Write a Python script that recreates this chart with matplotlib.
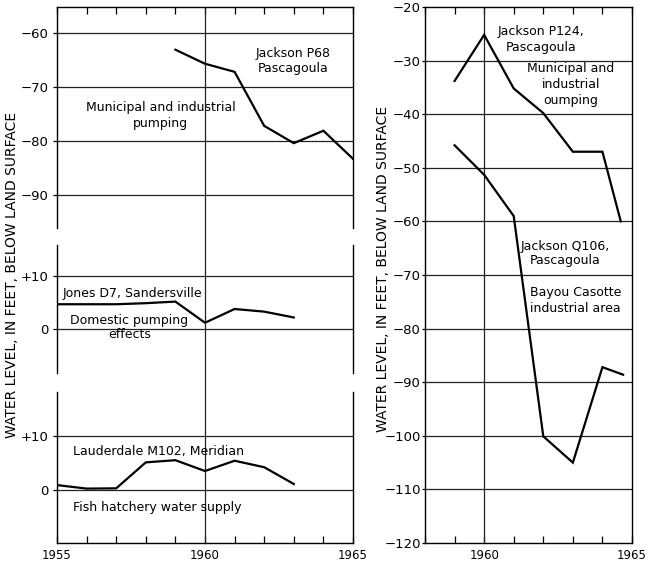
import matplotlib
matplotlib.use("Agg")
import matplotlib.pyplot as plt
from matplotlib.ticker import MultipleLocator, FixedLocator, FuncFormatter

plt.rcParams['font.family'] = ['DejaVu Sans']

# ---------------- data ----------------
years_p68 = [1959, 1960, 1961, 1962, 1963, 1964, 1965]
level_p68 = [-63.1, -65.7, -67.2, -77.2, -80.4, -78.1, -83.3]

years_d7 = [1955, 1956, 1957, 1958, 1959, 1960, 1961, 1962, 1963]
level_d7 = [4.6, 4.6, 4.6, 4.8, 5.1, 1.1, 3.7, 3.2, 2.1]

years_m102 = [1955, 1956, 1957, 1958, 1959, 1960, 1961, 1962, 1963]
level_m102 = [0.9, 0.25, 0.3, 5.1, 5.5, 3.5, 5.4, 4.2, 1.1]

years_p124 = [1959, 1960, 1961, 1962, 1963, 1964, 1964.62]
level_p124 = [-33.8, -25.2, -35.2, -39.8, -47.0, -47.0, -60.0]

years_q106 = [1959, 1960, 1961, 1962, 1963, 1964, 1964.7]
level_q106 = [-45.8, -51.3, -59.0, -100.1, -105.0, -87.2, -88.6]

left_year_ticks = [1955, 1960, 1965]
right_year_ticks = [1960, 1965]
ticks_p68 = [-60, -70, -80, -90]
ticks_small = [0, 10]
ticks_right = [-20, -30, -40, -50, -60, -70, -80, -90, -100, -110, -120]

# ---------------- layout ----------------
W, H = 650, 566
fig = plt.figure(figsize=(W / 100, H / 100), dpi=100)


def px_axes(l, t, r, b):
    return fig.add_axes([l / W, 1 - b / H, (r - l) / W, (b - t) / H])


ax1 = px_axes(57, 7, 353, 228)
ax2 = px_axes(57, 245, 353, 373)
ax3 = px_axes(57, 392, 353, 543)
ax4 = px_axes(425, 7, 632, 543)

LINE = dict(color='black', lw=1.6, solid_joinstyle='miter')
GRID = dict(color='#222222', lw=0.9)
TXT = dict(fontsize=9, color='black')
ytick_fmt = FuncFormatter(lambda v, p: ('+%d' % v) if v > 0 else ('\u2212%d' % -v if v < 0 else '0'))

for ax in (ax1, ax2, ax3):
    ax.set_xlim(1955, 1965)
ax4.set_xlim(1958, 1965)
ax1.set_ylim(-96.1, -55.2)
ax2.set_ylim(-8.4, 15.8)
ax3.set_ylim(-9.8, 18.1)
ax4.set_ylim(-120, -20)

for ax in (ax1, ax2, ax3, ax4):
    for s in ax.spines.values():
        s.set_linewidth(1.0)
        s.set_color('black')
    ax.set_facecolor('none')
    ax.xaxis.set_minor_locator(MultipleLocator(1))
    ax.tick_params(axis='x', which='both', direction='in', length=5, width=0.9,
                   labelsize=8.5, pad=4)
    ax.tick_params(axis='y', which='both', direction='out', length=3, width=0.9,
                   labelsize=9.5, pad=3)
    ax.yaxis.set_major_formatter(ytick_fmt)

# left column spines
ax1.spines['bottom'].set_visible(False)
ax2.spines['top'].set_visible(False)
ax2.spines['bottom'].set_visible(False)
ax3.spines['top'].set_visible(False)

ax1.xaxis.set_major_locator(FixedLocator(left_year_ticks))
ax1.tick_params(axis='x', which='both', bottom=False, top=True, labelbottom=False)
ax2.tick_params(axis='x', which='both', bottom=False, top=False, labelbottom=False)
ax3.xaxis.set_major_locator(FixedLocator(left_year_ticks))
ax3.tick_params(axis='x', which='both', bottom=True, top=False, labelbottom=True)
ax4.xaxis.set_major_locator(FixedLocator(right_year_ticks))
ax4.tick_params(axis='x', which='both', bottom=True, top=True, labelbottom=True)
ax4.tick_params(axis='y', length=2, pad=1)

ax1.yaxis.set_major_locator(FixedLocator(ticks_p68))
ax2.yaxis.set_major_locator(FixedLocator(ticks_small))
ax3.yaxis.set_major_locator(FixedLocator(ticks_small))
ax4.yaxis.set_major_locator(FixedLocator(ticks_right))

# grid lines
for t in ticks_p68:
    ax1.axhline(t, **GRID)
for ax in (ax2, ax3):
    for t in ticks_small:
        ax.axhline(t, **GRID)
for t in ticks_right[1:-1]:
    ax4.axhline(t, **GRID)
ax4.axvline(1960, **GRID)
# continuous 1960 line through left column
pos1, pos3 = ax1.get_position(), ax3.get_position()
ax3.axvline(1960, ymin=0, ymax=(pos1.y1 - pos3.y0) / pos3.height, clip_on=False, **GRID)

# series
ax1.plot(years_p68, level_p68, **LINE)
ax2.plot(years_d7, level_d7, **LINE)
ax3.plot(years_m102, level_m102, **LINE)
ax4.plot(years_p124, level_p124, **LINE)
ax4.plot(years_q106, level_q106, **LINE)

# annotations
ax1.text(1962.97, -65.2, 'Jackson P68\nPascagoula', ha='center', va='center', linespacing=1.25, **TXT)
ax1.text(1958.5, -75.3, 'Municipal and industrial\npumping', ha='center', va='center', linespacing=1.25, **TXT)
ax2.text(1955.2, 6.7, 'Jones D7, Sandersville', ha='left', va='center', **TXT)
ax2.text(1957.45, 0.2, 'Domestic pumping\neffects', ha='center', va='center', linespacing=1.05, **TXT)
ax3.text(1955.53, 7.1, 'Lauderdale M102, Meridian', ha='left', va='center', **TXT)
ax3.text(1955.53, -3.2, 'Fish hatchery water supply', ha='left', va='center', **TXT)

ax4.text(1961.92, -26.1, 'Jackson P124,\nPascagoula', ha='center', va='center', linespacing=1.35, **TXT)
ax4.text(1962.93, -34.4, 'Municipal and\nindustrial\noumping', ha='center', va='center', linespacing=1.3, **TXT)
ax4.text(1962.73, -66.0, 'Jackson Q106,\nPascagoula', ha='center', va='center', linespacing=1.15, **TXT)
ax4.text(1961.55, -74.8, 'Bayou Casotte\nindustrial area', ha='left', va='center', linespacing=1.3,
         clip_on=True, **TXT)

# y labels
fig.text(12 / W, 1 - 275 / H, 'WATER LEVEL, IN FEET, BELOW LAND SURFACE', rotation=90,
         ha='center', va='center', fontsize=10)
fig.text(383 / W, 1 - 269 / H, 'WATER LEVEL, IN FEET, BELOW LAND SURFACE', rotation=90,
         ha='center', va='center', fontsize=10)

fig.savefig('out.png', dpi=100, facecolor='white')
